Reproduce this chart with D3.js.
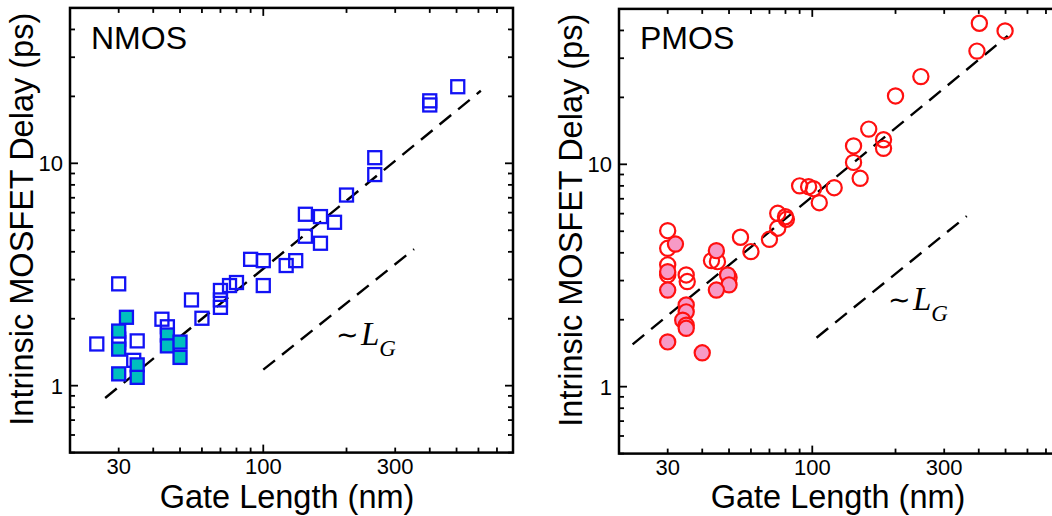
<!DOCTYPE html>
<html>
<head>
<meta charset="utf-8">
<script src="https://cdn.jsdelivr.net/npm/d3@7"></script>
<style>
  html, body { margin: 0; padding: 0; background: #fff; overflow: hidden; }
  svg { display: block; }
  text { font-family: "Liberation Sans", Arial, Helvetica, sans-serif; fill: #000; }
</style>
</head>
<body>
<svg id="chart" width="1052" height="516"></svg>
<script>
// ---- data (gate length in nm, intrinsic delay in ps) ----
const xTickLabels = [30, 100, 300];
const yTickLabels = [1, 10];

const nmosOpenGate  = [505, 400, 400, 253, 253, 200, 142, 161, 181, 142, 161, 90, 100, 121, 131, 100, 80, 75.5, 70, 70, 70, 60, 55, 30, 43, 45, 35, 25, 30, 30, 34];
const nmosOpenDelay = [22.1, 19.1, 18.3, 10.6, 8.9, 7.2, 5.9, 5.76, 5.43, 4.7, 4.37, 3.7, 3.65, 3.47, 3.65, 2.82, 2.91, 2.82, 2.68, 2.43, 2.25, 2.01, 2.43, 2.87, 1.99, 1.84, 1.59, 1.54, 1.62, 1.56, 1.3];
const nmosFilledGate  = [32, 30, 30, 30, 35, 35, 45, 45, 50, 50];
const nmosFilledDelay = [2.03, 1.76, 1.46, 1.13, 1.24, 1.09, 1.69, 1.51, 1.57, 1.34];

const pmosOpenGate  = [402, 498, 394, 247, 200, 160, 141, 181, 181, 141, 149, 90, 97, 101, 120, 106, 75, 80, 80.6, 75, 70, 55, 60, 30, 30, 30, 30, 35, 35.3, 43.2, 45.4, 50];
const pmosOpenDelay = [43.1, 39.8, 32.3, 24.8, 20.3, 14.4, 12.1, 12.9, 11.8, 10.2, 8.65, 8.0, 7.93, 7.77, 7.85, 6.72, 6.02, 5.81, 5.66, 5.16, 4.6, 4.7, 4.05, 5.03, 4.19, 3.53, 3.18, 3.18, 2.97, 3.69, 3.65, 3.1];
const pmosFilledGate  = [32, 45, 30, 30, 35, 35, 34, 35, 35, 30, 40, 49.4, 50, 45];
const pmosFilledDelay = [4.38, 4.09, 3.29, 2.72, 2.33, 2.17, 1.99, 1.89, 1.83, 1.59, 1.42, 3.18, 2.87, 2.72];

const nmosFitGate = [26.8, 612], nmosFitDelay = [0.88, 21.2];
const nmosRefGate = [100, 351],  nmosRefDelay = [1.18, 4.11];
const pmosFitGate = [22.4, 509], pmosFitDelay = [1.55, 37.8];
const pmosRefGate = [103.6, 362], pmosRefDelay = [1.66, 5.85];

const xDomain = [20, 800];
const yDomain = [0.5, 50];

// ---- drawing ----
const svg = d3.select("#chart");

const zip = (a, b) => a.map((v, i) => [v, b[i]]);

function drawPanel(cfg) {
  const x = d3.scaleLog().domain(xDomain).range([cfg.x0, cfg.x1]);
  const y = d3.scaleLog().domain(yDomain).range([cfg.y1, cfg.y0]);
  const g = svg.append("g");

  // minor/major ticks
  const xTicks = [];
  for (let d = 20; d <= 800; d += (d < 100 ? 10 : 100)) xTicks.push(d);
  const yTicks = [];
  [0.1, 1, 10].forEach(dec => { for (let k = 1; k <= 9; k++) { const v = +(k * dec).toFixed(3); if (v >= 0.5 && v <= 50) yTicks.push(v); } });
  const isMajorX = d => d === 100;
  const isMajorY = d => d === 1 || d === 10;

  const tk = g.append("g").attr("stroke", "#000").attr("stroke-width", 1.8);
  xTicks.forEach(d => {
    const L = isMajorX(d) ? 8 : 5;
    tk.append("line").attr("x1", x(d)).attr("x2", x(d)).attr("y1", cfg.y1).attr("y2", cfg.y1 - L);
    tk.append("line").attr("x1", x(d)).attr("x2", x(d)).attr("y1", cfg.y0).attr("y2", cfg.y0 + L);
  });
  yTicks.forEach(d => {
    const L = isMajorY(d) ? 8 : 5;
    tk.append("line").attr("y1", y(d)).attr("y2", y(d)).attr("x1", cfg.x0).attr("x2", cfg.x0 + L);
    tk.append("line").attr("y1", y(d)).attr("y2", y(d)).attr("x1", cfg.x1).attr("x2", cfg.x1 - L);
  });

  // frame
  g.append("rect").attr("x", cfg.x0).attr("y", cfg.y0)
    .attr("width", cfg.x1 - cfg.x0).attr("height", cfg.y1 - cfg.y0)
    .attr("fill", "none").attr("stroke", "#000").attr("stroke-width", 2.5);

  // tick labels
  g.selectAll(".xl").data(xTickLabels).enter().append("text")
    .attr("x", d => x(d)).attr("y", cfg.y1 + 21)
    .attr("text-anchor", "middle").attr("font-size", 22).text(d => d);
  g.selectAll(".yl").data(yTickLabels).enter().append("text")
    .attr("x", cfg.x0 - 7).attr("y", d => y(d) + 8)
    .attr("text-anchor", "end").attr("font-size", 22).text(d => d);

  // axis titles
  g.append("text").attr("x", cfg.titleX).attr("y", 508)
    .attr("text-anchor", "middle").attr("font-size", 32.5).text("Gate Length (nm)");
  g.append("text")
    .attr("transform", `translate(${cfg.x0 - 37},${(cfg.y0 + cfg.y1) / 2 - 11}) rotate(-90)`)
    .attr("text-anchor", "middle").attr("font-size", 32.5).text("Intrinsic MOSFET Delay (ps)");

  // dashed lines
  const line = d3.line().x(d => x(d[0])).y(d => y(d[1]));
  [[cfg.fitG, cfg.fitD], [cfg.refG, cfg.refD]].forEach(([a, b]) => {
    g.append("path").datum(zip(a, b)).attr("d", line)
      .attr("fill", "none").attr("stroke", "#000").attr("stroke-width", 2.4)
      .attr("stroke-dasharray", "15,9");
  });

  // markers
  const open = zip(cfg.openG, cfg.openD), filled = zip(cfg.filledG, cfg.filledD);
  if (cfg.shape === "square") {
    const s = 13;
    g.selectAll(".o").data(open).enter().append("rect")
      .attr("x", d => x(d[0]) - s / 2).attr("y", d => y(d[1]) - s / 2)
      .attr("width", s).attr("height", s)
      .attr("fill", "none").attr("stroke", cfg.stroke).attr("stroke-width", 2.3);
    g.selectAll(".f").data(filled).enter().append("rect")
      .attr("x", d => x(d[0]) - s / 2).attr("y", d => y(d[1]) - s / 2)
      .attr("width", s).attr("height", s)
      .attr("fill", cfg.fill).attr("stroke", cfg.stroke).attr("stroke-width", 2.3);
  } else {
    const r = 7.6;
    g.selectAll(".o").data(open).enter().append("circle")
      .attr("cx", d => x(d[0])).attr("cy", d => y(d[1])).attr("r", r)
      .attr("fill", "none").attr("stroke", cfg.stroke).attr("stroke-width", 2.2);
    g.selectAll(".f").data(filled).enter().append("circle")
      .attr("cx", d => x(d[0])).attr("cy", d => y(d[1])).attr("r", r)
      .attr("fill", cfg.fill).attr("stroke", cfg.stroke).attr("stroke-width", 2.2);
  }

  // labels
  g.append("text").attr("x", cfg.x0 + 21).attr("y", 49).attr("font-size", 32).text(cfg.name);

  const lg = g.append("text").attr("x", cfg.lgX).attr("y", cfg.lgY)
    .style("font-family", "'Liberation Serif', 'Times New Roman', serif");
  lg.append("tspan").attr("font-size", 27).attr("dy", -1).text("\u223C");
  lg.append("tspan").attr("font-size", 33).attr("font-style", "italic").attr("dx", 2).attr("dy", 1).text("L");
  lg.append("tspan").attr("font-size", 23).attr("font-style", "italic").attr("dy", 11).attr("dx", 0).text("G");
}

drawPanel({
  name: "NMOS", x0: 70, x1: 513, y0: 7.9, y1: 452.6, shape: "square",
  stroke: "#1212f5", fill: "#00bfbf", titleX: 287,
  openG: nmosOpenGate, openD: nmosOpenDelay, filledG: nmosFilledGate, filledD: nmosFilledDelay,
  fitG: nmosFitGate, fitD: nmosFitDelay, refG: nmosRefGate, refD: nmosRefDelay,
  lgX: 336, lgY: 345
});
drawPanel({
  name: "PMOS", x0: 619, x1: 1062, y0: 8.9, y1: 453.6, shape: "circle",
  stroke: "#ff1010", fill: "#f79ac6", titleX: 838,
  openG: pmosOpenGate, openD: pmosOpenDelay, filledG: pmosFilledGate, filledD: pmosFilledDelay,
  fitG: pmosFitGate, fitD: pmosFitDelay, refG: pmosRefGate, refD: pmosRefDelay,
  lgX: 888, lgY: 310
});
</script>
</body>
</html>
